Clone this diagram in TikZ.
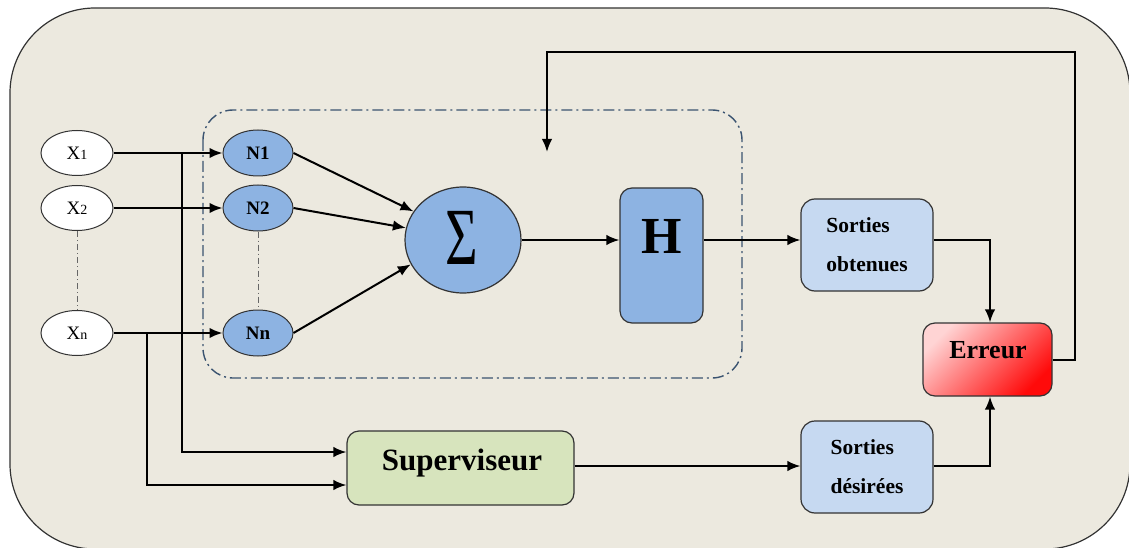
\documentclass[tikz,border=0pt]{standalone}
\usepackage{fontspec}
\usepackage{graphicx}
\setmainfont{Liberation Serif}
\usetikzlibrary{arrows.meta,shapes.geometric,calc}
\definecolor{bgc}{HTML}{ECE9DF}
\definecolor{nblue}{HTML}{8DB3E2}
\definecolor{lblue}{HTML}{C6D9F1}
\definecolor{lgreen}{HTML}{D7E4BD}
\definecolor{dashc}{HTML}{3A5370}
\definecolor{pinkc}{HTML}{FFD4D4}
\definecolor{redc}{HTML}{FF0A0A}
\tikzset{
  conn/.style={line width=2pt,-{Latex[length=13pt,width=10.5pt]}},
  inp/.style={ellipse,draw=black!80,line width=1pt,fill=white,minimum width=72pt,minimum height=45pt,inner sep=0pt,font=\fontsize{19}{20}\selectfont},
  neu/.style={ellipse,draw=black!80,line width=1pt,fill=nblue,minimum width=70pt,minimum height=46pt,inner sep=0pt,font=\fontsize{19}{20}\selectfont\bfseries},
  sbox/.style={rectangle,rounded corners=14pt,draw=black!80,line width=1.2pt,fill=lblue,minimum width=132pt,minimum height=92pt,inner sep=0pt,align=left,font=\fontsize{21.5}{39}\selectfont\bfseries},
  dots/.style={line width=0.8pt,black!60,dash pattern=on 6pt off 3pt on 1pt off 3pt}
}
\begin{document}
\begin{tikzpicture}[x=1pt,y=-1pt]
\useasboundingbox (0,0) rectangle (1129,548);
\begin{scope}
\clip (0,0) rectangle (1129,548);
\draw[fill=bgc,draw=black!80,line width=1.2pt,rounded corners=85pt] (10,8) rectangle (1130,549);
\end{scope}
% dashed enclosure
\draw[dashc,line width=1.4pt,dash pattern=on 11pt off 4pt on 2pt off 4pt,rounded corners=30pt] (203,110) rectangle (742,378);
% inputs
\node[inp] (x1) at (77,153) {X{\fontsize{14}{14}\selectfont 1}};
\node[inp] (x2) at (77,208) {X{\fontsize{14}{14}\selectfont 2}};
\node[inp] (xn) at (77,333) {X{\fontsize{14}{14}\selectfont n}};
\draw[dots] (x2.south) -- (xn.north);
% neurons
\node[neu] (n1) at (258,153) {N1};
\node[neu] (n2) at (258,208) {N2};
\node[neu] (nn) at (258,333) {Nn};
\draw[dots] (n2.south) -- (nn.north);
% sum
\node[ellipse,draw=black!80,line width=1.2pt,fill=nblue,minimum width=116pt,minimum height=106pt,inner sep=0pt] (sum) at (463,240) {};
\node[font=\fontsize{56}{56}\selectfont,inner sep=0pt] (sig) at (462,238) {\scalebox{1}[1.45]{Σ}};
% H
\node[rectangle,rounded corners=12pt,draw=black!80,line width=1.2pt,fill=nblue,minimum width=83pt,minimum height=135pt,inner sep=0pt] (h) at (661.5,255.5) {};
\node[font=\fontsize{52}{52}\selectfont\bfseries,inner sep=0pt] (ht) at (662,236) {H};
% outputs
\node[sbox] (so) at (867,245) {Sorties\\obtenues};
\node[sbox] (sd) at (867,467) {Sorties\\désirées};
\node[rectangle,rounded corners=12pt,draw=black!80,line width=1.2pt,minimum width=129pt,minimum height=73pt,inner sep=0pt,left color=pinkc,right color=redc,shading angle=45] (err) at (987.5,359.5) {};
\node[font=\fontsize{26}{28}\selectfont\bfseries,inner sep=0pt] (errt) at (988,350) {Erreur};
\node[rectangle,rounded corners=12pt,draw=black!80,line width=1.2pt,fill=lgreen,minimum width=227pt,minimum height=74pt,inner sep=0pt] (sup) at (460.5,468) {};
\node[font=\fontsize{31}{32}\selectfont\bfseries,inner sep=0pt] (supt) at (462,463) {Superviseur};
% connectors inputs -> neurons
\draw[conn] (x1.east) -- (n1.west);
\draw[conn] (x2.east) -- (n2.west);
\draw[conn] (xn.east) -- (nn.west);
\coordinate (b1) at (182,153);
\coordinate (bn) at (147,333);
\draw[conn] (b1) -- (182,452) -- (sup.west |- 0,452);
\draw[conn] (bn) -- (147,485) -- (sup.west |- 0,485);
% neurons -> sum
\draw[conn] (n1.east) -- (sum.150);
\draw[conn] (n2.east) -- (sum.168);
\draw[conn] (nn.east) -- (sum.205);
\draw[conn] (sum.east) -- (h.west |- sum.east);
\draw[conn] (h.east |- sum.east) -- (so.west |- sum.east);
\draw[conn] (so.east |- 0,240) -- (990,240) -- (err.north -| 990,0);
\draw[conn] (sup.east |- 0,466) -- (sd.west |- 0,466);
\draw[conn] (sd.east |- 0,466) -- (990,466) -- (err.south -| 990,0);
\coordinate (fb) at (547,152);
\draw[conn] (err.east) -- (1075,359.5) -- (1075,52) -- (547,52) -- (fb);
\end{tikzpicture}
\end{document}
